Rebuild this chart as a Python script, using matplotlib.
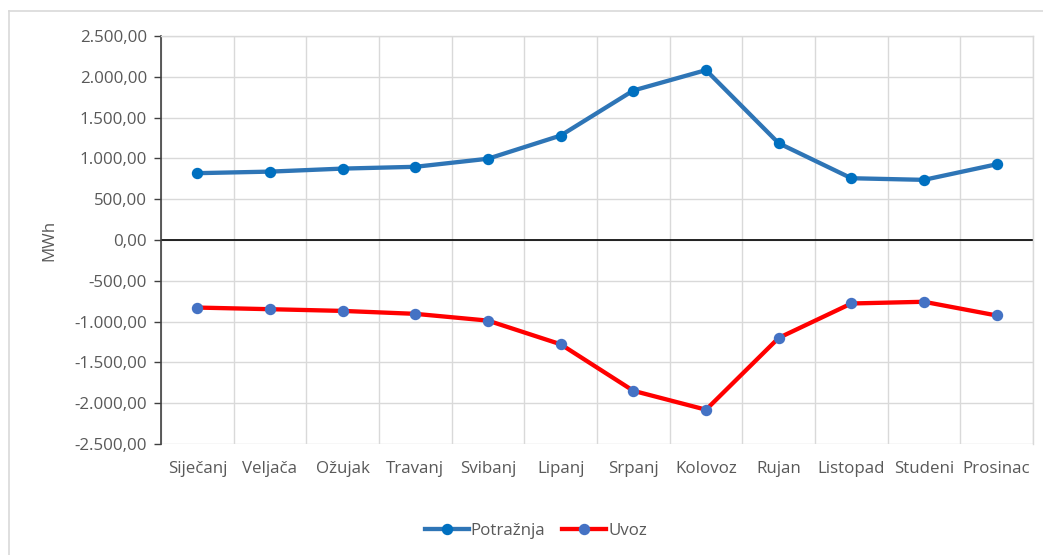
import matplotlib
matplotlib.use("Agg")
import matplotlib.pyplot as plt
from matplotlib.lines import Line2D
from matplotlib.ticker import FuncFormatter, MultipleLocator

months = ["Siječanj", "Veljača", "Ožujak", "Travanj", "Svibanj", "Lipanj",
          "Srpanj", "Kolovoz", "Rujan", "Listopad", "Studeni", "Prosinac"]
potraznja = [819, 838, 875, 897, 996, 1280, 1832, 2082, 1186, 757, 737, 928]
uvoz = [-828, -848, -869, -905, -988, -1278, -1848, -2080, -1200, -778, -757, -925]
yticks = [-2500, -2000, -1500, -1000, -500, 0, 500, 1000, 1500, 2000, 2500]

plt.rcParams['font.family'] = ['Open Sans', 'DejaVu Sans']
txt = '#595959'
fs = 12.2

W, H = 1043, 555
fig = plt.figure(figsize=(W / 100, H / 100), dpi=100)
# outer chart frame (only top and left edges visible in the crop)
fig.add_artist(Line2D([8.5 / W, 1], [1 - 11 / H, 1 - 11 / H], transform=fig.transFigure,
                      color='#d9d9d9', lw=1.2))
fig.add_artist(Line2D([8.5 / W, 8.5 / W], [0, 1 - 11 / H], transform=fig.transFigure,
                      color='#d9d9d9', lw=1.2))

ax = fig.add_axes([161 / W, 1 - 444 / H, (1033 - 161) / W, (444 - 36) / H])

x = list(range(len(months)))
ax.plot(x, potraznja, color='#2E75B6', lw=3.1, marker='o', ms=7.2,
        markerfacecolor='#0070C0', markeredgecolor='#0070C0', label='Potražnja', zorder=3)
ax.plot(x, uvoz, color='#FF0000', lw=3.1, marker='o', ms=7.2,
        markerfacecolor='#4472C4', markeredgecolor='#4472C4', label='Uvoz', zorder=3)

ax.set_xlim(-0.5, len(months) - 0.5)
ax.set_ylim(-2500, 2500)
ax.set_yticks(yticks)

def fmt(v, pos):
    s = f"{abs(v):,.2f}".replace(",", "X").replace(".", ",").replace("X", ".")
    return ("-" if v < 0 else "") + s
ax.yaxis.set_major_formatter(FuncFormatter(fmt))

ax.set_xticks(x)
ax.set_xticklabels(months)
ax.xaxis.set_minor_locator(MultipleLocator(1, offset=0.5))
ax.grid(which='minor', axis='x', color='#d9d9d9', lw=1.0)
ax.grid(which='major', axis='y', color='#d9d9d9', lw=1.0)
ax.set_axisbelow(True)
ax.tick_params(axis='x', which='both', length=0, pad=12, labelsize=fs, labelcolor=txt)
ax.tick_params(axis='y', length=5, width=1, color='#404040', pad=5, labelsize=fs, labelcolor=txt)
ax.axhline(0, color='black', lw=1.2, zorder=2)

ax.spines['bottom'].set_visible(False)
ax.spines['right'].set_color('#d9d9d9')
ax.spines['right'].set_linewidth(1.0)
ax.spines['left'].set_color('#404040')
ax.spines['left'].set_linewidth(1.2)
ax.spines['top'].set_color('#d9d9d9')
ax.spines['top'].set_linewidth(1.0)

ax.set_ylabel('MWh', color=txt, fontsize=fs, labelpad=12)

leg = fig.legend(loc='center', bbox_to_anchor=(536 / W, 1 - 531 / H), ncol=2,
                 frameon=False, fontsize=fs, handlelength=2.6, columnspacing=1.0,
                 handletextpad=0.1)
for t in leg.get_texts():
    t.set_color(txt)

fig.savefig('out.png', dpi=100, facecolor='white')
